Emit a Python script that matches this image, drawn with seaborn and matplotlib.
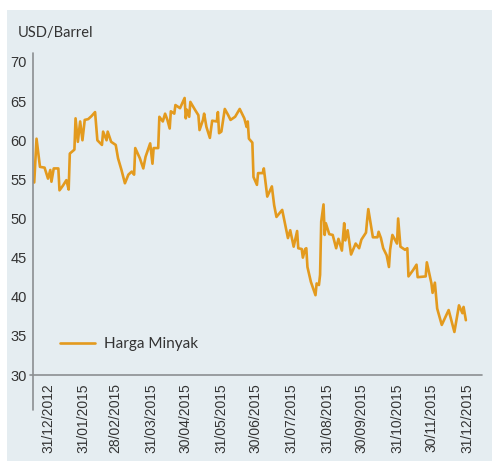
import numpy as np
import pandas as pd
import matplotlib
matplotlib.use("Agg")
import matplotlib.pyplot as plt
import matplotlib.dates as mdates
from matplotlib.patches import Rectangle
import seaborn as sns

# ---- data ----
dates = [
    "2014-12-19", "2014-12-21", "2014-12-24", "2014-12-28", "2014-12-31",
    "2015-01-02", "2015-01-03", "2015-01-05", "2015-01-09", "2015-01-10",
    "2015-01-13", "2015-01-16", "2015-01-18", "2015-01-19", "2015-01-23",
    "2015-01-24", "2015-01-26", "2015-01-28", "2015-01-30", "2015-02-01",
    "2015-02-04", "2015-02-07", "2015-02-10", "2015-02-12", "2015-02-16",
    "2015-02-17", "2015-02-20", "2015-02-21", "2015-02-24", "2015-02-28",
    "2015-03-02", "2015-03-05", "2015-03-08", "2015-03-11", "2015-03-14",
    "2015-03-16", "2015-03-17", "2015-03-21", "2015-03-24", "2015-03-26",
    "2015-03-30", "2015-04-01", "2015-04-02", "2015-04-06", "2015-04-07",
    "2015-04-10", "2015-04-12", "2015-04-14", "2015-04-16", "2015-04-17",
    "2015-04-20", "2015-04-21", "2015-04-25", "2015-04-29", "2015-04-30",
    "2015-05-01", "2015-05-03", "2015-05-04", "2015-05-08", "2015-05-11",
    "2015-05-12", "2015-05-15", "2015-05-16", "2015-05-18", "2015-05-21",
    "2015-05-23", "2015-05-27", "2015-05-28", "2015-05-29", "2015-05-31",
    "2015-06-03", "2015-06-06", "2015-06-08", "2015-06-12", "2015-06-16",
    "2015-06-20", "2015-06-22", "2015-06-23", "2015-06-24", "2015-06-27",
    "2015-06-28", "2015-07-01", "2015-07-02", "2015-07-06", "2015-07-07",
    "2015-07-10", "2015-07-14", "2015-07-16", "2015-07-18", "2015-07-23",
    "2015-07-28", "2015-07-30", "2015-08-02", "2015-08-05", "2015-08-06",
    "2015-08-09", "2015-08-10", "2015-08-12", "2015-08-13", "2015-08-14",
    "2015-08-17", "2015-08-21", "2015-08-22", "2015-08-24", "2015-08-25",
    "2015-08-26", "2015-08-28", "2015-08-29", "2015-08-30", "2015-09-02",
    "2015-09-05", "2015-09-08", "2015-09-10", "2015-09-13", "2015-09-15",
    "2015-09-16", "2015-09-18", "2015-09-21", "2015-09-25", "2015-09-28",
    "2015-09-30", "2015-10-04", "2015-10-05", "2015-10-06", "2015-10-10",
    "2015-10-14", "2015-10-15", "2015-10-17", "2015-10-19", "2015-10-22",
    "2015-10-24", "2015-10-25", "2015-10-27", "2015-10-31", "2015-11-01",
    "2015-11-03", "2015-11-07", "2015-11-09", "2015-11-10", "2015-11-14",
    "2015-11-17", "2015-11-18", "2015-11-25", "2015-11-26", "2015-11-30",
    "2015-12-01", "2015-12-03", "2015-12-05", "2015-12-09", "2015-12-15",
    "2015-12-20", "2015-12-24", "2015-12-27", "2015-12-28", "2015-12-30",
]
harga_minyak = [
    54.6, 60.2, 56.6, 56.5, 55.1,
    56.2, 54.7, 56.4, 56.4, 53.6,
    54.2, 54.9, 53.7, 58.3, 58.8,
    62.8, 59.8, 62.4, 60.0, 62.6,
    62.7, 63.1, 63.6, 60.0, 59.4,
    61.1, 60.0, 61.1, 59.8, 59.4,
    57.7, 56.2, 54.5, 55.6, 56.0,
    55.6, 59.0, 57.7, 56.4, 57.9,
    59.6, 57.0, 59.0, 59.0, 63.0,
    62.4, 63.4, 62.6, 61.5, 63.7,
    63.4, 64.5, 64.1, 65.4, 62.8,
    63.9, 63.0, 64.9, 63.9, 63.2,
    61.3, 62.6, 63.4, 61.7, 60.3,
    62.5, 62.4, 63.6, 60.9, 61.1,
    64.0, 63.2, 62.6, 63.0, 64.0,
    62.8, 61.7, 62.4, 60.2, 59.7,
    55.3, 54.3, 55.8, 55.8, 56.4,
    52.8, 54.1, 51.7, 50.2, 51.1,
    47.5, 48.5, 46.4, 48.4, 46.2,
    46.1, 45.0, 46.1, 46.2, 43.8,
    41.9, 40.2, 41.7, 41.5, 42.8,
    49.6, 51.8, 47.9, 49.4, 48.0,
    47.9, 46.2, 47.4, 45.9, 49.4,
    47.2, 48.5, 45.4, 46.8, 46.2,
    47.3, 48.2, 49.8, 51.2, 47.6,
    47.6, 48.3, 47.5, 46.2, 45.3,
    43.8, 46.0, 47.9, 46.8, 50.0,
    46.4, 46.0, 46.2, 42.6, 43.4,
    44.1, 42.5, 42.6, 44.4, 41.7,
    40.5, 41.8, 38.5, 36.4, 38.3,
    35.5, 38.9, 37.9, 38.7, 37.0,
]
series_name = "Harga Minyak"
y_label = "USD/Barrel"
tick_dates = [
    "2014-12-31", "2015-01-31", "2015-02-28", "2015-03-31", "2015-04-30",
    "2015-05-31", "2015-06-30", "2015-07-31", "2015-08-31", "2015-09-30",
    "2015-10-31", "2015-11-30", "2015-12-31",
]
tick_labels = [
    "31/12/2012", "31/01/2015", "28/02/2015", "31/03/2015", "30/04/2015",
    "31/05/2015", "30/06/2015", "31/07/2015", "31/08/2015", "30/09/2015",
    "31/10/2015", "30/11/2015", "31/12/2015",
]
y_ticks = [30, 35, 40, 45, 50, 55, 60, 65, 70]

# ---- styling ----
sns.set_theme(style="white")
NARROW = ["Liberation Sans", "DejaVu Sans"]
REG = ["Lato", "DejaVu Sans"]
plt.rcParams["font.family"] = REG

PANEL = "#e5edf1"
LINE = "#e39a1e"
AXIS = "#8c8f92"
TEXT = "#333333"

W, H = 492, 461
fig = plt.figure(figsize=(W / 100, H / 100), dpi=100, facecolor="white")
fig.patches.append(Rectangle((7 / W, 0), 1 - 7 / W, (H - 10) / H,
                             transform=fig.transFigure, facecolor=PANEL,
                             edgecolor="none", zorder=-10))

ax_l, ax_r, ax_t, ax_b = 33, 482, 53, 375
ax = fig.add_axes([ax_l / W, (H - ax_b) / H, (ax_r - ax_l) / W, (ax_b - ax_t) / H])
ax.set_facecolor("none")

df = pd.DataFrame({"date": pd.to_datetime(dates), series_name: harga_minyak})
sns.lineplot(data=df, x="date", y=series_name, ax=ax, color=LINE,
             linewidth=1.9, label=series_name)

base = mdates.date2num(pd.Timestamp("2014-12-31"))
ax.set_xlim(base - 13.07, base + 378.05)
ax.set_ylim(30, 71.15)

for s in ax.spines.values():
    s.set_visible(False)
# left axis line (extends below the 30 baseline) and baseline at 30
ax.plot([0, 0], [-35 / (ax_b - ax_t), 1], transform=ax.transAxes,
        color=AXIS, lw=1.2, clip_on=False, zorder=3)
ax.plot([-3 / (ax_r - ax_l), 1], [0, 0], transform=ax.transAxes,
        color=AXIS, lw=1.2, clip_on=False, zorder=3)

ax.set_yticks(y_ticks)
ax.set_yticklabels([str(v) for v in y_ticks], family=NARROW, fontsize=10.5,
                   color=TEXT)
ax.set_xticks(mdates.date2num(pd.to_datetime(tick_dates)))
ax.set_xticklabels(tick_labels, rotation=90, family=NARROW, fontsize=10,
                   color=TEXT)
ax.tick_params(axis="y", length=0, pad=4.5)
ax.tick_params(axis="x", length=0, pad=6)
ax.set_xlabel("")
ax.set_ylabel("")
ax.grid(False)

fig.text(18 / W, (H - 33) / H, y_label, fontsize=10.5, color=TEXT,
         ha="left", va="center")

leg = ax.legend(loc="center left",
                bbox_to_anchor=((60 - ax_l) / (ax_r - ax_l), (ax_b - 344) / (ax_b - ax_t)),
                frameon=False, fontsize=11, handlelength=2.3,
                handletextpad=0.55, borderpad=0, borderaxespad=0)
for t in leg.get_texts():
    t.set_color(TEXT)

fig.savefig("out.png", dpi=100, facecolor="white")
